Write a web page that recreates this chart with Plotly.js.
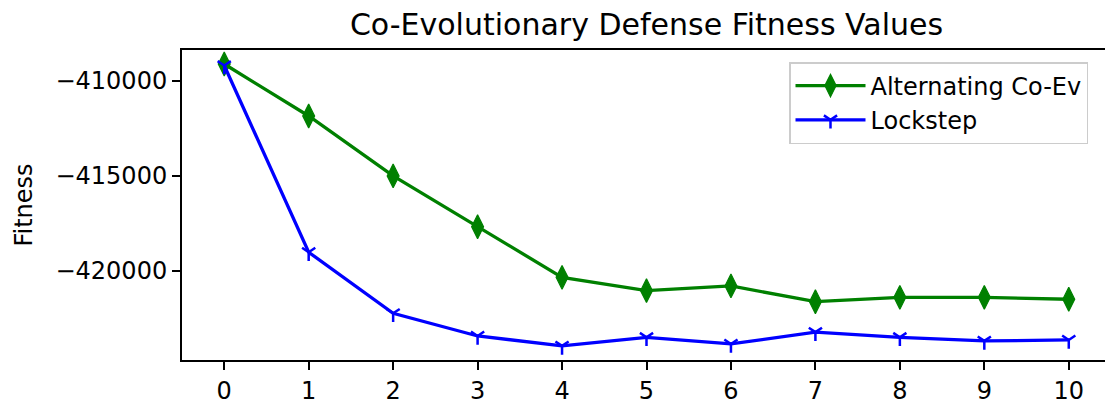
<!DOCTYPE html>
<html>
<head>
<meta charset="utf-8">
<script src="https://cdn.plot.ly/plotly-3.0.1.min.js"></script>
<style>
  html, body { margin: 0; padding: 0; overflow: hidden; background: #fff; }
  #chart { width: 1130px; height: 400px; }
</style>
</head>
<body>
<div id="chart"></div>
<script>
// Generations on the x axis
const generations = [0, 1, 2, 3, 4, 5, 6, 7, 8, 9, 10];

// Best defense fitness per generation for each co-evolution scheme
const alternatingFitness = [-409120, -411850, -415000, -417670, -420330, -421030, -420780, -421610, -421380, -421380, -421480];
const lockstepFitness    = [-409200, -419010, -422220, -423410, -423930, -423480, -423830, -423210, -423480, -423670, -423620];

// Y axis ticks
const yTickValues = [-420000, -415000, -410000];
const yTickLabels = ['\u2212420000', '\u2212415000', '\u2212410000'];

const FONT = 'DejaVu Sans, Verdana, sans-serif';

const traces = [
  {
    x: generations,
    y: alternatingFitness,
    name: 'Alternating Co-Ev',
    type: 'scatter',
    mode: 'lines+markers',
    line: { color: '#008000', width: 3.3 },
    marker: { symbol: 'diamond-tall', size: 17, color: '#008000',
              line: { color: '#008000', width: 1.2 } },
    cliponaxis: false
  },
  {
    x: generations,
    y: lockstepFitness,
    name: 'Lockstep',
    type: 'scatter',
    mode: 'lines+markers',
    line: { color: '#0000ff', width: 3.3 },
    marker: { symbol: 'y-down', size: 11, color: '#0000ff',
              line: { color: '#0000ff', width: 2.5 } },
    cliponaxis: false
  }
];

const axisCommon = {
  showline: true,
  linecolor: '#000',
  linewidth: 2,
  mirror: true,
  ticks: 'outside',
  ticklen: 8,
  tickwidth: 2,
  tickcolor: '#000',
  showgrid: false,
  zeroline: false,
  tickfont: { family: FONT, size: 24, color: '#000' }
};

const layout = {
  width: 1130,
  height: 400,
  margin: { l: 182, r: 19, t: 50, b: 40 },
  paper_bgcolor: '#fff',
  plot_bgcolor: '#fff',
  font: { family: FONT, size: 24, color: '#000' },
  title: {
    text: 'Co-Evolutionary Defense Fitness Values',
    font: { family: FONT, size: 30, color: '#000' },
    x: 0.5,
    xref: 'paper',
    xanchor: 'center',
    y: 1 - 24 / 400,
    yref: 'container',
    yanchor: 'middle'
  },
  xaxis: Object.assign({}, axisCommon, {
    range: [-0.5, 10.5],
    tickmode: 'array',
    tickvals: generations,
    ticktext: generations.map(String)
  }),
  yaxis: Object.assign({}, axisCommon, {
    range: [-424673, -408383],
    tickmode: 'array',
    tickvals: yTickValues,
    ticktext: yTickLabels,
    title: { text: 'Fitness', font: { family: FONT, size: 24, color: '#000' }, standoff: 16 }
  }),
  showlegend: true,
  legend: {
    x: (789 - 182) / 929,
    y: 1 - 12 / 310,
    xanchor: 'left',
    yanchor: 'top',
    bgcolor: 'rgba(255,255,255,0.8)',
    bordercolor: '#cccccc',
    borderwidth: 1.5,
    font: { family: FONT, size: 24, color: '#000' },
    itemwidth: 70
  }
};

Plotly.newPlot('chart', traces, layout, { displayModeBar: false, staticPlot: true });
</script>
</body>
</html>
